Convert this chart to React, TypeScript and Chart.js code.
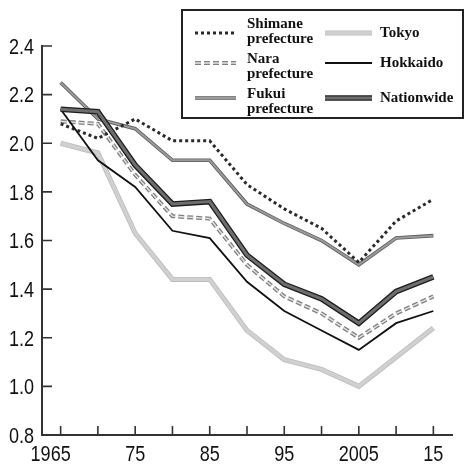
import React, { useEffect, useRef } from "react";
import { Chart, registerables } from "chart.js";

Chart.register(...registerables);

const years = ["1965", "1970", "1975", "1980", "1985", "1990", "1995", "2000", "2005", "2010", "2015"];
const xTickLabels = ["1965", "", "75", "", "85", "", "95", "", "2005", "", "15"];
const yTickMin = 0.8;
const yTickMax = 2.4;
const yTickStep = 0.2;

const shimane = [2.08, 2.02, 2.10, 2.01, 2.01, 1.83, 1.73, 1.65, 1.51, 1.68, 1.77];
const nara = [2.09, 2.08, 1.87, 1.70, 1.69, 1.50, 1.37, 1.30, 1.20, 1.30, 1.37];
const fukui = [2.25, 2.10, 2.06, 1.93, 1.93, 1.75, 1.67, 1.60, 1.50, 1.61, 1.62];
const tokyo = [2.00, 1.96, 1.63, 1.44, 1.44, 1.23, 1.11, 1.07, 1.00, 1.12, 1.24];
const hokkaido = [2.14, 1.93, 1.82, 1.64, 1.61, 1.43, 1.31, 1.23, 1.15, 1.26, 1.31];
const nationwide = [2.14, 2.13, 1.91, 1.75, 1.76, 1.54, 1.42, 1.36, 1.26, 1.39, 1.45];

const shimaneName = ["Shimane", "prefecture"];
const naraName = ["Nara", "prefecture"];
const fukuiName = ["Fukui", "prefecture"];
const tokyoName = ["Tokyo"];
const hokkaidoName = ["Hokkaido"];
const nationwideName = ["Nationwide"];

const AXIS_FONT = "22px 'Liberation Sans', Arial, sans-serif";
const AXIS_SQUEEZE = 0.82;
const LEGEND_FONT = "bold 15px 'Liberation Serif', 'DejaVu Serif', serif";

function strokePath(ctx: CanvasRenderingContext2D, pts: { x: number; y: number }[], color: string, width: number, dash: number[]) {
  ctx.save();
  ctx.strokeStyle = color;
  ctx.lineWidth = width;
  ctx.setLineDash(dash);
  ctx.lineJoin = "miter";
  ctx.lineCap = "butt";
  ctx.beginPath();
  pts.forEach((p, i) => (i === 0 ? ctx.moveTo(p.x, p.y) : ctx.lineTo(p.x, p.y)));
  ctx.stroke();
  ctx.restore();
}

const outlinePlugin = {
  id: "outline",
  beforeDatasetDraw(chart: any, args: any) {
    const ds = chart.data.datasets[args.index];
    if (!ds.outlineColor) return;
    const ctx = chart.ctx as CanvasRenderingContext2D;
    const pts = args.meta.data.map((e: any) => ({ x: e.x, y: e.y }));
    const a = chart.chartArea;
    ctx.save();
    ctx.beginPath();
    ctx.rect(a.left, a.top - 10, a.right - a.left, a.bottom - a.top + 10);
    ctx.clip();
    strokePath(ctx, pts, ds.outlineColor, ds.outlineWidth, ds.borderDash || []);
    ctx.restore();
  },
};

function squeezedText(ctx: CanvasRenderingContext2D, text: string, x: number, y: number, align: "center" | "right") {
  ctx.save();
  ctx.translate(x, y);
  ctx.scale(AXIS_SQUEEZE, 1);
  ctx.textAlign = align;
  ctx.fillText(text, 0, 0);
  ctx.restore();
}

const axisPlugin = {
  id: "innerTicks",
  afterDatasetsDraw(chart: any) {
    const ctx = chart.ctx as CanvasRenderingContext2D;
    const x = chart.scales.x;
    const y = chart.scales.y;
    ctx.save();
    ctx.strokeStyle = "#333";
    ctx.lineWidth = 1.6;
    ctx.beginPath();
    x.ticks.forEach((_t: any, i: number) => {
      const px = x.getPixelForTick(i);
      ctx.moveTo(px, x.top);
      ctx.lineTo(px, x.top - 9);
    });
    y.ticks.forEach((_t: any, i: number) => {
      const py = y.getPixelForTick(i);
      ctx.moveTo(y.right, py);
      ctx.lineTo(y.right + 10, py);
    });
    ctx.stroke();
    ctx.font = AXIS_FONT;
    ctx.fillStyle = "#111";
    ctx.textBaseline = "alphabetic";
    x.ticks.forEach((_t: any, i: number) => {
      const lbl = xTickLabels[i];
      const shift = i === 0 ? -10 : 0;
      if (lbl) squeezedText(ctx, lbl, x.getPixelForTick(i) + shift, x.top + 26, "center");
    });
    y.ticks.forEach((t: any, i: number) => {
      squeezedText(ctx, Number(t.value).toFixed(1), y.right - 8, y.getPixelForTick(i) + 7.8, "right");
    });
    ctx.restore();
  },
};

const legendPlugin = {
  id: "boxLegend",
  afterDraw(chart: any) {
    const ctx = chart.ctx as CanvasRenderingContext2D;
    const box = { x: 182, y: 10, w: 281, h: 108 };
    ctx.save();
    ctx.fillStyle = "#fff";
    ctx.fillRect(box.x, box.y, box.w, box.h);
    ctx.strokeStyle = "#222";
    ctx.lineWidth = 2;
    ctx.strokeRect(box.x, box.y, box.w, box.h);
    const cols = [
      { sx: 195, ex: 236, tx: 247 },
      { sx: 325, ex: 372, tx: 380 },
    ];
    const rowsY = [33, 63, 98];
    const rowTextTop = [24, 59, 94];
    ctx.font = LEGEND_FONT;
    ctx.fillStyle = "#111";
    ctx.textBaseline = "middle";
    chart.data.datasets.forEach((ds: any) => {
      const col = cols[ds.legendCol];
      const sy = rowsY[ds.legendRow];
      const pts = [
        { x: col.sx, y: sy },
        { x: col.ex, y: sy },
      ];
      if (ds.outlineColor) strokePath(ctx, pts, ds.outlineColor, ds.outlineWidth, ds.borderDash || []);
      strokePath(ctx, pts, ds.borderColor, ds.borderWidth, ds.borderDash || []);
      const lines: string[] = ds.nameLines;
      if (lines.length === 1) {
        ctx.fillText(lines[0], col.tx, sy);
      } else {
        lines.forEach((l, i) => ctx.fillText(l, col.tx, rowTextTop[ds.legendRow] + i * 15));
      }
    });
    ctx.restore();
  },
};

export default function App() {
  const ref = useRef<HTMLCanvasElement | null>(null);
  useEffect(() => {
    if (!ref.current) return;
    const base = { pointRadius: 0, pointHoverRadius: 0, fill: false, tension: 0 };
    const chart = new Chart(ref.current, {
      type: "line",
      data: {
        labels: years,
        datasets: [
          {
            ...base,
            label: shimaneName.join(" "),
            nameLines: shimaneName,
            data: shimane,
            borderColor: "#2a2a2a",
            borderWidth: 3,
            borderDash: [3, 3],
            order: 3,
            legendCol: 0,
            legendRow: 0,
          },
          {
            ...base,
            label: naraName.join(" "),
            nameLines: naraName,
            data: nara,
            borderColor: "#e4e4e4",
            borderWidth: 1.4,
            borderDash: [6, 3],
            outlineColor: "#808080",
            outlineWidth: 4,
            order: 4,
            legendCol: 0,
            legendRow: 1,
          },
          {
            ...base,
            label: fukuiName.join(" "),
            nameLines: fukuiName,
            data: fukui,
            borderColor: "#9a9a9a",
            borderWidth: 2,
            outlineColor: "#5a5a5a",
            outlineWidth: 3.6,
            order: 5,
            legendCol: 0,
            legendRow: 2,
          },
          {
            ...base,
            label: tokyoName.join(" "),
            nameLines: tokyoName,
            data: tokyo,
            borderColor: "#d0d0d0",
            borderWidth: 3.4,
            outlineColor: "#bcbcbc",
            outlineWidth: 5,
            order: 6,
            legendCol: 1,
            legendRow: 0,
          },
          {
            ...base,
            label: hokkaidoName.join(" "),
            nameLines: hokkaidoName,
            data: hokkaido,
            borderColor: "#111",
            borderWidth: 1.8,
            order: 2,
            legendCol: 1,
            legendRow: 1,
          },
          {
            ...base,
            label: nationwideName.join(" "),
            nameLines: nationwideName,
            data: nationwide,
            borderColor: "#6e6e6e",
            borderWidth: 3,
            outlineColor: "#1e1e1e",
            outlineWidth: 5.6,
            order: 1,
            legendCol: 1,
            legendRow: 2,
          },
        ] as any,
      },
      options: {
        animation: false,
        responsive: false,
        events: [],
        layout: { padding: { top: 46, right: 18, left: 0, bottom: 0 } },
        plugins: { legend: { display: false }, tooltip: { enabled: false } },
        scales: {
          x: {
            type: "category",
            offset: true,
            grid: { display: false, drawTicks: false },
            border: { display: true, color: "#333", width: 2 },
            afterFit: (s: any) => {
              s.height = 39;
            },
            ticks: {
              autoSkip: false,
              maxRotation: 0,
              padding: 7,
              color: "rgba(0,0,0,0)",
              font: { size: 21 },
              callback: (_v: any, i: number) => xTickLabels[i],
            },
          },
          y: {
            min: yTickMin,
            max: yTickMax,
            grid: { display: false, drawTicks: false },
            border: { display: true, color: "#333", width: 2 },
            afterFit: (s: any) => {
              s.width = 42;
            },
            ticks: {
              stepSize: yTickStep,
              padding: 8,
              color: "rgba(0,0,0,0)",
              font: { size: 21 },
              callback: (v: any) => Number(v).toFixed(1),
            },
          },
        },
      },
      plugins: [outlinePlugin, axisPlugin, legendPlugin],
    } as any);
    return () => chart.destroy();
  }, []);
  return (
    <div style={{ position: "absolute", left: 0, top: 0, width: 470, height: 474, background: "#fff" }}>
      <canvas ref={ref} width={470} height={474} style={{ display: "block" }} />
    </div>
  );
}
